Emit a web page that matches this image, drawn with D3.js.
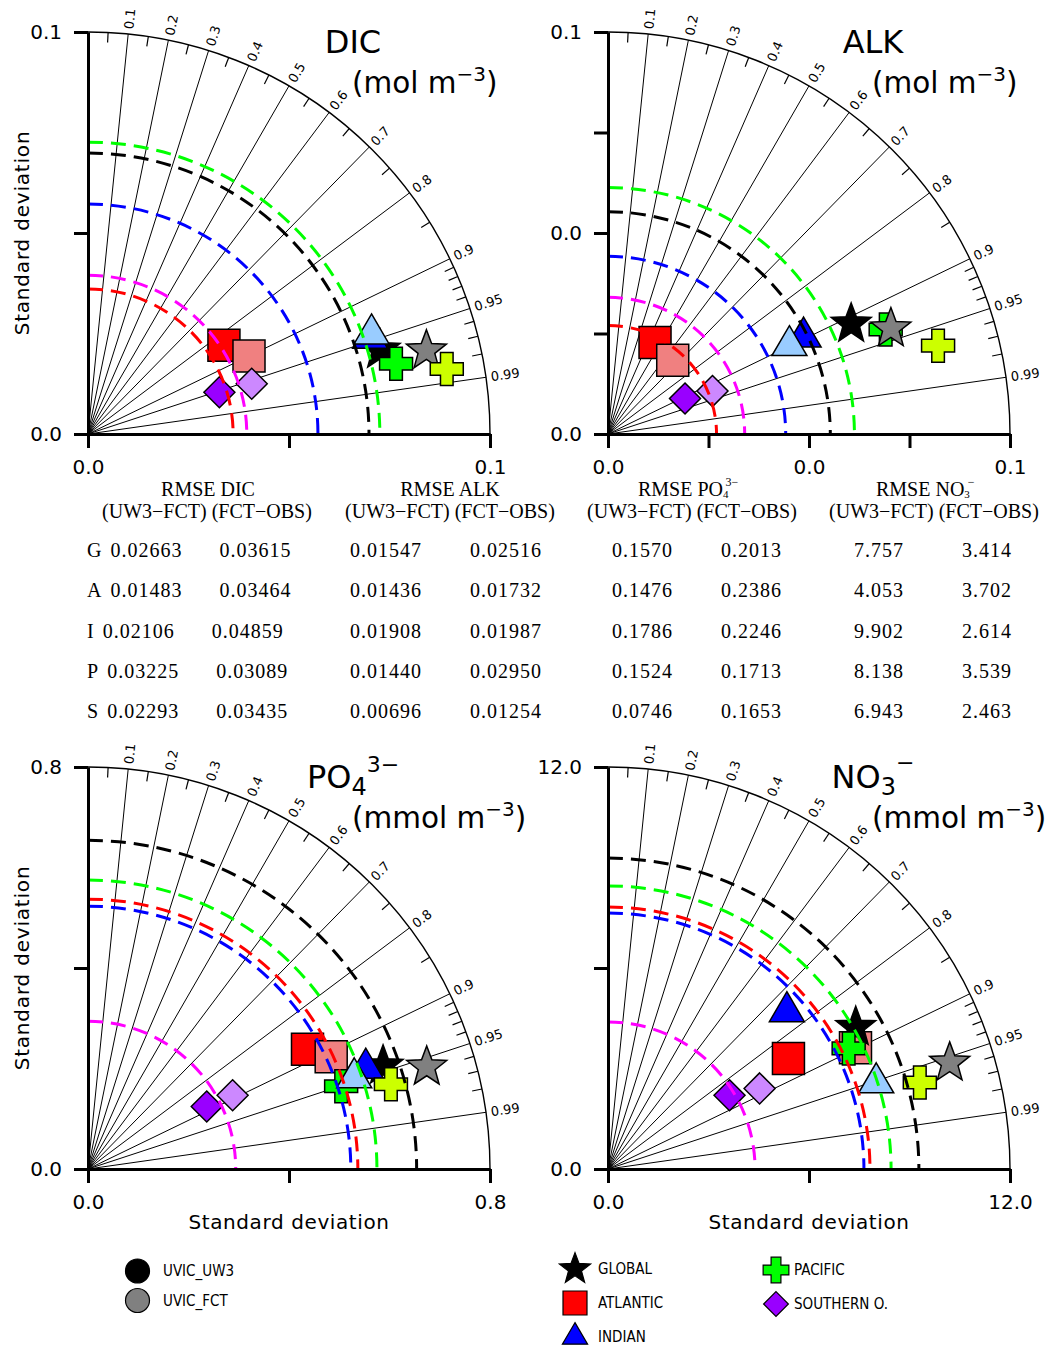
<!DOCTYPE html>
<html><head><meta charset="utf-8">
<script src="https://cdn.jsdelivr.net/npm/d3@7"></script>
<style>
body{margin:0;background:#fff;}
svg{display:block;}
</style></head><body>
<svg id="chart" width="1059" height="1347"></svg>
<script>
// ---------------- DATA ----------------
const regions = ["GLOBAL","ATLANTIC","INDIAN","PACIFIC","SOUTHERN O."];
const regionShort = ["G","A","I","P","S"];
const models = ["UVIC_UW3","UVIC_FCT"];
const shapes = ["star","square","triangle","cross","diamond"];
const uw3Colors = ["#000000","#ff0000","#0000ff","#00ff00","#9900ff"];
const fctColors = ["#808080","#f08080","#99ccff","#ccff00","#cc88ff"];
const obsColors = ["#000000","#ff0000","#0000ff","#00ff00","#ff00ff"];

const corrLines  = [0.1,0.2,0.3,0.4,0.5,0.6,0.7,0.8,0.9,0.95,0.99];
const corrLabels = ["0.1","0.2","0.3","0.4","0.5","0.6","0.7","0.8","0.9","0.95","0.99"];
const corrMinor  = [0.05,0.15,0.25,0.35,0.45,0.55,0.65,0.75,0.85,0.91,0.92,0.93,0.94,0.96,0.97,0.98];

// DIC (mol m-3), regions order: G, A, I, P, S
const dicStdUW3 = [0.0756, 0.0404, 0.0741, 0.0786, 0.0343];
const dicCorUW3 = [0.961, 0.837, 0.947, 0.975, 0.953];
const dicStdFCT = [0.0867, 0.0445, 0.0748, 0.0907, 0.0426];
const dicCorFCT = [0.971, 0.900, 0.943, 0.984, 0.956];
const dicObsStd = [0.0699, 0.0361, 0.0572, 0.0726, 0.0395];
const dicTicks = [0, 0.05, 0.1];
const dicTickLabels = ["0.0", "", "0.1"];

// ALK (mol m-3)
const alkStdUW3 = [0.0664, 0.0256, 0.0543, 0.0738, 0.0211];
const alkCorUW3 = [0.911, 0.457, 0.896, 0.936, 0.908];
const alkStdFCT = [0.0751, 0.0244, 0.0502, 0.0850, 0.0281];
const alkCorFCT = [0.937, 0.660, 0.899, 0.966, 0.925];
const alkObsStd = [0.0553, 0.0270, 0.0442, 0.0613, 0.0340];
const alkTicks = [0, 0.025, 0.05, 0.075, 0.1];
const alkTickLabels = ["0.0", "", "0.0", "", "0.1"];

// PO4 (mmol m-3)
const po4StdUW3 = [0.622, 0.4975, 0.588, 0.530, 0.267];
const po4CorUW3 = [0.944, 0.878, 0.940, 0.9505, 0.885];
const po4StdFCT = [0.704, 0.533, 0.560, 0.626, 0.323];
const po4CorFCT = [0.9575, 0.908, 0.946, 0.963, 0.891];
const po4ObsStd = [0.654, 0.537, 0.523, 0.575, 0.294];
const po4Ticks = [0, 0.4, 0.8];
const po4TickLabels = ["0.0", "", "0.8"];

// NO3 (mmol m-3)
const no3StdUW3 = [8.52, 6.315, 7.11, 8.036, 4.243];
const no3CorUW3 = [0.868, 0.853, 0.751, 0.894, 0.855];
const no3StdFCT = [10.68, 8.227, 8.41, 9.66, 5.125];
const no3CorFCT = [0.955, 0.898, 0.952, 0.9636, 0.883];
const no3ObsStd = [9.28, 7.82, 7.64, 8.45, 4.39];
const no3Ticks = [0, 6, 12];
const no3TickLabels = ["0.0", "", "12.0"];

// RMSE table
const rmseDicUW3FCT = [0.02663, 0.01483, 0.02106, 0.03225, 0.02293];
const rmseDicFCTOBS = [0.03615, 0.03464, 0.04859, 0.03089, 0.03435];
const rmseAlkUW3FCT = [0.01547, 0.01436, 0.01908, 0.01440, 0.00696];
const rmseAlkFCTOBS = [0.02516, 0.01732, 0.01987, 0.02950, 0.01254];
const rmsePo4UW3FCT = [0.1570, 0.1476, 0.1786, 0.1524, 0.0746];
const rmsePo4FCTOBS = [0.2013, 0.2386, 0.2246, 0.1713, 0.1653];
const rmseNo3UW3FCT = [7.757, 4.053, 9.902, 8.138, 6.943];
const rmseNo3FCTOBS = [3.414, 3.702, 2.614, 3.539, 2.463];

// draw order of markers: [model index, region index]
const drawOrder = [[0,1],[1,1],[0,0],[0,2],[0,3],[1,2],[1,0],[1,3],[0,4],[1,4]];

// ---------------- LAYOUT ----------------
const svg = d3.select("#chart");
const R = 402;
const SANS = "'DejaVu Sans', Verdana, sans-serif";
const SERIF = "'Liberation Serif', 'Times New Roman', serif";

const panels = [
  {name:"DIC", unit:"mol", max:0.1, ticks:dicTicks, labels:dicTickLabels, ox:88, oy:434, ylab:true, xlab:false,
   std:[dicStdUW3,dicStdFCT], cor:[dicCorUW3,dicCorFCT], obs:dicObsStd},
  {name:"ALK", unit:"mol", max:0.1, ticks:alkTicks, labels:alkTickLabels, ox:608, oy:434, ylab:false, xlab:false,
   std:[alkStdUW3,alkStdFCT], cor:[alkCorUW3,alkCorFCT], obs:alkObsStd},
  {name:"PO4", unit:"mmol", max:0.8, ticks:po4Ticks, labels:po4TickLabels, ox:88, oy:1169, ylab:true, xlab:true,
   std:[po4StdUW3,po4StdFCT], cor:[po4CorUW3,po4CorFCT], obs:po4ObsStd},
  {name:"NO3", unit:"mmol", max:12, ticks:no3Ticks, labels:no3TickLabels, ox:608, oy:1169, ylab:false, xlab:true,
   std:[no3StdUW3,no3StdFCT], cor:[no3CorUW3,no3CorFCT], obs:no3ObsStd}
];

function shapePath(shape, s){
  switch(shape){
    case "square": { const h=16*s; return `M${-h},${-h}H${h}V${h}H${-h}Z`; }
    case "triangle": { const w=17.5*s, t=20*s, b=10*s; return `M0,${-t}L${w},${b}L${-w},${b}Z`; }
    case "diamond": { const h=15.5*s; return `M0,${-h}L${h},0L0,${h}L${-h},0Z`; }
    case "cross": { const a=16.5*s, t=6.3*s;
      return `M${-t},${-a}H${t}V${-t}H${a}V${t}H${t}V${a}H${-t}V${t}H${-a}V${-t}H${-t}Z`; }
    case "star": { const ro=21*s, ri=8.8*s; const pts=[];
      for(let k=0;k<10;k++){ const rr=k%2?ri:ro; const a=-Math.PI/2+k*Math.PI/5; pts.push([rr*Math.cos(a), rr*Math.sin(a)]); }
      return "M"+pts.map(p=>p[0].toFixed(2)+","+p[1].toFixed(2)).join("L")+"Z"; }
  }
}

function drawPanel(p){
  const g = svg.append("g").attr("transform",`translate(${p.ox},${p.oy})`);
  const r = d3.scaleLinear().domain([0,p.max]).range([0,R]);
  const pos = (s,c)=>{ const th=Math.acos(c); return [r(s)*Math.cos(th), -r(s)*Math.sin(th)]; };

  // radial correlation lines
  g.append("g").selectAll("line").data(corrLines).join("line")
    .attr("x1",0).attr("y1",0)
    .attr("x2",c=>R*c).attr("y2",c=>-R*Math.sqrt(1-c*c))
    .attr("stroke","#000").attr("stroke-width",1);
  // minor ticks
  g.append("g").selectAll("line").data(corrMinor).join("line")
    .attr("x1",c=>R*c).attr("y1",c=>-R*Math.sqrt(1-c*c))
    .attr("x2",c=>(R-10)*c).attr("y2",c=>-(R-10)*Math.sqrt(1-c*c))
    .attr("stroke","#000").attr("stroke-width",1.2);
  // outer arc
  const ap = d3.path(); ap.moveTo(0,-R); ap.arc(0,0,R,-Math.PI/2,0,false);
  g.append("path").attr("d",ap.toString()).attr("fill","none").attr("stroke","#000").attr("stroke-width",1.4);
  // correlation labels
  g.append("g").selectAll("text").data(corrLines).join("text")
    .attr("transform",(c)=>{ const a=Math.acos(c); const rr=R+5;
      return `translate(${rr*Math.cos(a)},${-rr*Math.sin(a)}) rotate(${-a*180/Math.PI})`; })
    .attr("dy","0.36em").attr("font-family",SANS).attr("font-size",13)
    .text((c,i)=>corrLabels[i]);

  // markers
  g.append("g").selectAll("path").data(drawOrder).join("path")
    .attr("d",d=>shapePath(shapes[d[1]],1))
    .attr("transform",d=>{ const xy=pos(p.std[d[0]][d[1]], p.cor[d[0]][d[1]]); return `translate(${xy[0]},${xy[1]})`; })
    .attr("fill",d=>(d[0]===0?uw3Colors:fctColors)[d[1]])
    .attr("stroke","#000").attr("stroke-width",1.5).attr("stroke-linejoin","miter");

  // observation std dev dashed arcs
  g.append("g").selectAll("path").data(p.obs).join("path")
    .attr("d",s=>{ const q=d3.path(); const rr=r(s); q.moveTo(0,-rr); q.arc(0,0,rr,-Math.PI/2,0,false); return q.toString(); })
    .attr("fill","none").attr("stroke",(s,i)=>obsColors[i]).attr("stroke-width",3)
    .attr("stroke-dasharray","15,8");

  // axes
  const yScale = d3.scaleLinear().domain([0,p.max]).range([0,-R]);
  const yAxis = d3.axisLeft(yScale).tickValues(p.ticks).tickFormat((d,i)=>p.labels[i])
    .tickSize(14).tickPadding(12).tickSizeOuter(0);
  const xAxis = d3.axisBottom(r).tickValues(p.ticks).tickFormat((d,i)=>p.labels[i])
    .tickSize(14).tickPadding(12).tickSizeOuter(0);
  [g.append("g").call(yAxis), g.append("g").call(xAxis)].forEach(ax=>{
    ax.attr("font-family",SANS).attr("font-size",20);
    ax.select(".domain").attr("stroke","#000").attr("stroke-width",3);
    ax.selectAll(".tick line").attr("stroke","#000").attr("stroke-width",3);
    ax.selectAll(".tick text").attr("fill","#000");
  });

  // title
  const t = g.append("text").attr("x",265).attr("y",-381).attr("text-anchor","middle")
    .attr("font-family",SANS).attr("font-size",32);
  if(p.name==="PO4"){
    t.append("tspan").text("PO");
    t.append("tspan").attr("font-size",24).attr("dy",7).text("4");
    t.append("tspan").attr("font-size",22).attr("dy",-23).text("3\u2212");
  } else if(p.name==="NO3"){
    t.append("tspan").text("NO");
    t.append("tspan").attr("font-size",24).attr("dy",7).text("3");
    t.append("tspan").attr("font-size",22).attr("dy",-25).text("\u2212");
  } else t.text(p.name);
  // units
  const u = g.append("text").attr("x",264).attr("y",-341).attr("font-family",SANS).attr("font-size",29.5);
  u.append("tspan").text(`(${p.unit} m`);
  u.append("tspan").attr("font-size",20).attr("dy",-12).text("\u22123");
  u.append("tspan").attr("dy",12).text(")");

  if(p.ylab){
    g.append("text").attr("transform",`translate(${29-p.ox},${-R/2}) rotate(-90)`)
      .attr("text-anchor","middle").attr("font-family",SANS).attr("font-size",20).attr("letter-spacing",0.8)
      .text("Standard deviation");
  }
  if(p.xlab){
    g.append("text").attr("x",R/2).attr("y",60).attr("text-anchor","middle")
      .attr("font-family",SANS).attr("font-size",20).attr("letter-spacing",0.6)
      .text("Standard deviation");
  }
}
panels.forEach(drawPanel);

// ---------------- TABLE ----------------
const tbl = svg.append("g").attr("font-family",SERIF).attr("font-size",20).attr("fill","#000");
const h1y = 496, h2y = 518;
tbl.append("text").attr("x",208).attr("y",h1y).attr("text-anchor","middle").text("RMSE DIC");
tbl.append("text").attr("x",450).attr("y",h1y).attr("text-anchor","middle").text("RMSE ALK");
const tp = tbl.append("text").attr("x",638).attr("y",h1y);
tp.append("tspan").text("RMSE PO");
tp.append("tspan").attr("font-size",11).attr("dy",2).text("4");
tp.append("tspan").attr("font-size",12).attr("dx",-3).attr("dy",-12).text("3\u2212");
const tn = tbl.append("text").attr("x",876).attr("y",h1y);
tn.append("tspan").text("RMSE NO");
tn.append("tspan").attr("font-size",11).attr("dy",2).text("3");
tn.append("tspan").attr("font-size",12).attr("dx",-2).attr("dy",-12).text("\u2212");
[207,450,692,934].forEach(cx=>{
  tbl.append("text").attr("x",cx).attr("y",h2y).attr("text-anchor","middle").text("(UW3\u2212FCT) (FCT\u2212OBS)");
});
const rowY = [557,597,637.5,678,718];
const num = tbl.append("g").attr("letter-spacing",1);
regionShort.forEach((lab,i)=>{
  const t = num.append("text").attr("x",87).attr("y",rowY[i]);
  t.append("tspan").text(lab);
  t.append("tspan").attr("dx",8).text(rmseDicUW3FCT[i].toFixed(5));
  t.append("tspan").attr("dx",37).text(rmseDicFCTOBS[i].toFixed(5));
  num.append("text").attr("x",350).attr("y",rowY[i]).text(rmseAlkUW3FCT[i].toFixed(5));
  num.append("text").attr("x",470).attr("y",rowY[i]).text(rmseAlkFCTOBS[i].toFixed(5));
  num.append("text").attr("x",612).attr("y",rowY[i]).text(rmsePo4UW3FCT[i].toFixed(4));
  num.append("text").attr("x",721).attr("y",rowY[i]).text(rmsePo4FCTOBS[i].toFixed(4));
  num.append("text").attr("x",854).attr("y",rowY[i]).text(rmseNo3UW3FCT[i].toFixed(3));
  num.append("text").attr("x",962).attr("y",rowY[i]).text(rmseNo3FCTOBS[i].toFixed(3));
});

// ---------------- LEGENDS ----------------
const LEGF = "'Liberation Sans Narrow', 'DejaVu Sans Condensed', 'DejaVu Sans', sans-serif";
const legModelColors = ["#000000","#808080"];
const lm = svg.append("g");
models.forEach((m,i)=>{
  const y = 1271 + i*29.5;
  lm.append("circle").attr("cx",137.5).attr("cy",y).attr("r",12).attr("fill",legModelColors[i]).attr("stroke","#000").attr("stroke-width",1.2);
  lm.append("text").attr("x",163).attr("y",y).attr("dy","0.36em").attr("font-family",LEGF).attr("font-size",15).text(m);
});
const legPos = [[575,1269],[575,1303],[575,1337],[776,1270],[776,1304]];
const legScale = [0.78,0.75,0.72,0.78,0.8];
const lr = svg.append("g");
regions.forEach((reg,i)=>{
  const [x,y] = legPos[i];
  lr.append("path").attr("d",shapePath(shapes[i],legScale[i])).attr("transform",`translate(${x},${y})`)
    .attr("fill",uw3Colors[i]).attr("stroke","#000").attr("stroke-width",1.2);
  lr.append("text").attr("x",i<3?598:794).attr("y",y).attr("dy","0.36em")
    .attr("font-family",LEGF).attr("font-size",15).text(reg);
});
</script>
</body></html>
